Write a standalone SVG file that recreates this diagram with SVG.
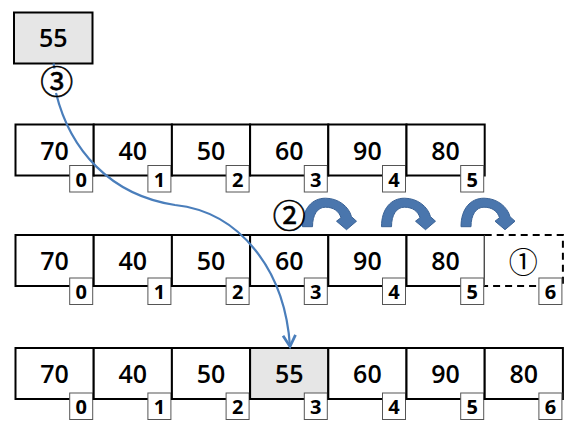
<svg xmlns="http://www.w3.org/2000/svg" xmlns:xlink="http://www.w3.org/1999/xlink" width="580" height="432" viewBox="0 0 580 432">
<style>
.cell{fill:#ffffff;stroke:#000000;stroke-width:2}
.hl{fill:#e6e6e6;stroke:#000000;stroke-width:2}
.num{font-family:"Open Sans","Noto Sans",sans-serif;font-size:25px;font-weight:600;fill:#000000;text-anchor:middle}
.ibox{fill:#ffffff;stroke:#555555;stroke-width:1}
.idx{font-family:"Open Sans","Noto Sans",sans-serif;font-size:20px;font-weight:700;fill:#000000;text-anchor:middle}
.circ{font-family:"Noto Sans CJK KR","Noto Sans CJK SC",sans-serif;font-weight:400;fill:#000000;text-anchor:middle}
.conn{fill:none;stroke:#4a7ebb;stroke-width:2.2}
.barrow{fill:#4a76ad;stroke:#3b6396;stroke-width:1}
</style>
<defs>
<marker id="vhead" markerUnits="userSpaceOnUse" markerWidth="20" markerHeight="20" refX="0" refY="0" viewBox="-12 -8 14 16" orient="auto" overflow="visible">
<path d="M-9,-5 L0,0 L-9,5" fill="none" stroke="#4a7ebb" stroke-width="2.2" stroke-linejoin="miter"/>
</marker>
<path id="carrow" d="M0,0 C0,-18 9.5,-28.5 23,-28.5 C36,-28.5 46.5,-20 49,-10 L54,-5.5 L44,3 L34,-5.5 L38.5,-9 C36.5,-15.5 31,-19.5 23,-19.5 C15,-19.5 10,-12 10,0 Z"/>
</defs>

<g id="top-55">
<rect class="hl" x="14" y="12.5" width="78.5" height="51"/>
<text class="num" x="53.3" y="46.5">55</text>
</g>

<g id="row1">
<g id="r1c0"><rect class="cell" x="15.5" y="124.5" width="78.2" height="51"/><text class="num" x="54.6" y="159.5">70</text><rect class="ibox" x="69.7" y="165.5" width="23" height="26.5"/><text class="idx" x="81.2" y="186.5">0</text></g>
<g id="r1c1"><rect class="cell" x="93.7" y="124.5" width="78.2" height="51"/><text class="num" x="132.8" y="159.5">40</text><rect class="ibox" x="147.9" y="165.5" width="23" height="26.5"/><text class="idx" x="159.4" y="186.5">1</text></g>
<g id="r1c2"><rect class="cell" x="171.9" y="124.5" width="78.2" height="51"/><text class="num" x="211" y="159.5">50</text><rect class="ibox" x="226.1" y="165.5" width="23" height="26.5"/><text class="idx" x="237.6" y="186.5">2</text></g>
<g id="r1c3"><rect class="cell" x="250.1" y="124.5" width="78.2" height="51"/><text class="num" x="289.2" y="159.5">60</text><rect class="ibox" x="304.3" y="165.5" width="23" height="26.5"/><text class="idx" x="315.8" y="186.5">3</text></g>
<g id="r1c4"><rect class="cell" x="328.3" y="124.5" width="78.2" height="51"/><text class="num" x="367.4" y="159.5">90</text><rect class="ibox" x="382.5" y="165.5" width="23" height="26.5"/><text class="idx" x="394" y="186.5">4</text></g>
<g id="r1c5"><rect class="cell" x="406.5" y="124.5" width="78.2" height="51"/><text class="num" x="445.6" y="159.5">80</text><rect class="ibox" x="460.7" y="165.5" width="23" height="26.5"/><text class="idx" x="472.2" y="186.5">5</text></g>
</g>

<g id="row2">
<g id="r2c0"><rect class="cell" x="15.5" y="235" width="78.2" height="51"/><text class="num" x="54.6" y="270">70</text><rect class="ibox" x="69.7" y="278" width="23" height="26.5"/><text class="idx" x="81.2" y="299">0</text></g>
<g id="r2c1"><rect class="cell" x="93.7" y="235" width="78.2" height="51"/><text class="num" x="132.8" y="270">40</text><rect class="ibox" x="147.9" y="278" width="23" height="26.5"/><text class="idx" x="159.4" y="299">1</text></g>
<g id="r2c2"><rect class="cell" x="171.9" y="235" width="78.2" height="51"/><text class="num" x="211" y="270">50</text><rect class="ibox" x="226.1" y="278" width="23" height="26.5"/><text class="idx" x="237.6" y="299">2</text></g>
<g id="r2c3"><rect class="cell" x="250.1" y="235" width="78.2" height="51"/><text class="num" x="289.2" y="270">60</text><rect class="ibox" x="304.3" y="278" width="23" height="26.5"/><text class="idx" x="315.8" y="299">3</text></g>
<g id="r2c4"><rect class="cell" x="328.3" y="235" width="78.2" height="51"/><text class="num" x="367.4" y="270">90</text><rect class="ibox" x="382.5" y="278" width="23" height="26.5"/><text class="idx" x="394" y="299">4</text></g>
<g id="r2c5"><rect class="cell" x="406.5" y="235" width="78.2" height="51"/><text class="num" x="445.6" y="270">80</text><rect class="ibox" x="460.7" y="278" width="23" height="26.5"/><text class="idx" x="472.2" y="299">5</text></g>
<g id="r2c6"><path d="M484.7,235 H562.9 V286 H484.7" fill="#ffffff" stroke="#000000" stroke-width="2" stroke-dasharray="7 5"/><text class="circ" x="523.3" y="273.3" font-size="29">①</text><rect class="ibox" x="538.9" y="278" width="23" height="26.5"/><text class="idx" x="550.4" y="299">6</text></g>
</g>

<g id="row3">
<g id="r3c0"><rect class="cell" x="15.5" y="348" width="78.2" height="51"/><text class="num" x="54.6" y="382.5">70</text><rect class="ibox" x="69.7" y="393" width="23" height="26.5"/><text class="idx" x="81.2" y="414">0</text></g>
<g id="r3c1"><rect class="cell" x="93.7" y="348" width="78.2" height="51"/><text class="num" x="132.8" y="382.5">40</text><rect class="ibox" x="147.9" y="393" width="23" height="26.5"/><text class="idx" x="159.4" y="414">1</text></g>
<g id="r3c2"><rect class="cell" x="171.9" y="348" width="78.2" height="51"/><text class="num" x="211" y="382.5">50</text><rect class="ibox" x="226.1" y="393" width="23" height="26.5"/><text class="idx" x="237.6" y="414">2</text></g>
<g id="r3c3"><rect class="hl" x="250.1" y="348" width="78.2" height="51"/><text class="num" x="289.2" y="382.5">55</text><rect class="ibox" x="304.3" y="393" width="23" height="26.5"/><text class="idx" x="315.8" y="414">3</text></g>
<g id="r3c4"><rect class="cell" x="328.3" y="348" width="78.2" height="51"/><text class="num" x="367.4" y="382.5">60</text><rect class="ibox" x="382.5" y="393" width="23" height="26.5"/><text class="idx" x="394" y="414">4</text></g>
<g id="r3c5"><rect class="cell" x="406.5" y="348" width="78.2" height="51"/><text class="num" x="445.6" y="382.5">90</text><rect class="ibox" x="460.7" y="393" width="23" height="26.5"/><text class="idx" x="472.2" y="414">5</text></g>
<g id="r3c6"><rect class="cell" x="484.7" y="348" width="78.2" height="51"/><text class="num" x="523.8" y="382.5">80</text><rect class="ibox" x="538.9" y="393" width="23" height="26.5"/><text class="idx" x="550.4" y="414">6</text></g>
</g>

<g id="shift-arrows">
<use xlink:href="#carrow" class="barrow" transform="translate(302.5,226.7)"/>
<use xlink:href="#carrow" class="barrow" transform="translate(381.5,226.7)"/>
<use xlink:href="#carrow" class="barrow" transform="translate(461,226.7)"/>
</g>

<g id="connectors">
<path class="conn" d="M53.5,63.5 L54.5,68.5"/>
<path class="conn" d="M56,93 C70,150 110,195 175,205 C240,212 285,270 290,346.5" marker-end="url(#vhead)"/>
</g>

<g id="step-labels">
<g id="step3"><text class="circ" x="56.7" y="93.5" font-size="33" stroke="#000000" stroke-width="0.6">③</text></g>
<g id="step2"><text class="circ" x="289.3" y="227.5" font-size="33" stroke="#000000" stroke-width="0.6">②</text></g>
</g>
</svg>
